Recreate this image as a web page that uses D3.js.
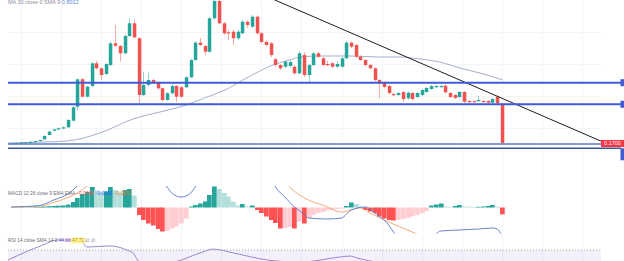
<!DOCTYPE html>
<html><head><meta charset="utf-8">
<script src="https://cdn.jsdelivr.net/npm/d3@7"></script>
<style>body{margin:0;background:#fff}svg{display:block}text{font-family:"Liberation Sans",Arial,sans-serif}</style>
</head><body><svg id="c" width="624" height="261"></svg>
<script>
// ---- data ----
const opens = [.165,.168,.170,.174,.177,.182,.190,.207,.250,.293,.307,.317,.327,.393,.533,.807,.633,.740,.967,.917,.860,.950,1.167,1.140,1.067,1.240,1.367,1.217,.650,.750,.800,.773,.717,.600,.667,.740,.727,.727,.827,1.000,1.173,1.140,1.083,1.417,1.590,1.367,1.277,1.283,1.217,1.267,1.383,1.333,1.433,1.267,1.180,1.167,1.007,.950,.933,.940,.933,.867,1.050,.850,.950,1.067,1.017,.960,.967,.933,.933,1.017,1.173,1.150,1.033,1.000,.950,.917,.800,.780,.740,.660,.650,.680,.617,.670,.630,.650,.680,.710,.730,.735,.743,.670,.650,.630,.680,.590,.588,.595,.590,.590,.573,.633,.560];
const highs = [.170,.172,.176,.179,.184,.192,.203,.250,.295,.315,.325,.335,.410,.540,.815,.820,.745,.980,.990,.925,.970,1.180,1.350,1.150,1.255,1.417,1.400,1.230,.883,.873,.815,.785,.725,.680,.755,.750,.740,.840,1.015,1.190,1.220,1.150,1.430,1.650,1.620,1.380,1.300,1.300,1.300,1.400,1.395,1.450,1.445,1.280,1.195,1.180,1.020,.960,.995,1.000,.945,1.085,1.080,.960,1.080,1.080,1.030,.990,.980,.990,1.030,1.190,1.185,1.160,1.045,1.010,.960,.925,.810,.790,.750,.670,.680,.690,.685,.680,.680,.710,.730,.750,.750,.750,.755,.680,.660,.690,.690,.600,.598,.640,.600,.600,.620,.645,.570];
const lows = [.163,.166,.168,.172,.175,.180,.188,.200,.245,.288,.300,.310,.320,.385,.500,.620,.625,.730,.905,.800,.850,.940,1.130,.983,1.055,1.230,1.215,.570,.640,.740,.760,.700,.585,.590,.655,.583,.620,.715,.815,.990,1.140,1.050,1.070,1.400,1.355,1.250,1.200,1.150,1.200,1.255,1.320,1.320,1.255,1.165,1.135,1.030,.935,.900,.920,.925,.850,.855,.830,.770,.940,1.020,.935,.940,.920,.925,.925,1.005,1.120,1.020,.990,.935,.905,.785,.620,.715,.655,.640,.640,.580,.605,.595,.620,.640,.670,.700,.720,.725,.665,.620,.610,.620,.570,.575,.578,.585,.578,.560,.565,.555,.160];
const closes = [.168,.170,.174,.177,.182,.190,.200,.240,.283,.307,.317,.327,.400,.527,.807,.633,.733,.967,.917,.850,.960,1.167,1.143,1.067,1.240,1.367,1.227,.650,.750,.800,.773,.717,.600,.667,.740,.633,.633,.827,1.000,1.173,1.150,1.083,1.417,1.590,1.367,1.267,1.267,1.217,1.283,1.383,1.350,1.433,1.267,1.180,1.150,1.050,.950,.917,.983,.980,.867,1.067,.850,.950,1.067,1.033,.950,.950,.933,.960,1.017,1.173,1.133,1.033,1.000,.950,.917,.800,.767,.730,.670,.650,.670,.610,.673,.610,.670,.700,.720,.740,.740,.740,.677,.630,.620,.680,.583,.585,.584,.600,.585,.573,.610,.567,.170];

// moving average on price (sparse points)
const smaIdx = [-0.7,6.7,11.8,18.8,25.8,31.5,35.7,41.5,45.3,49.1,52.7,55.4,59.0,61.2,65.4,71.8,78.1,82.4,86.6,90.8,95.1,99.3,104.2];
const smaVal = [.17,.18,.19,.27,.41,.48,.53,.63,.70,.80,.89,.95,1.00,1.03,1.04,1.04,1.03,1.03,1.01,.98,.92,.87,.80];

// horizontal levels and trend line
const levels = [0.773, 0.557, 0.160, 0.117];
const trendIdx = [50, 126];
const trendVal = [1.72, 0.168];

// MACD histogram
const hist = [.0001,.0001,.0002,.0002,.0003,.0005,.0007,.001,.0013,.0016,.0018,.002,.003,.0055,.0095,.0135,.0155,.0205,.017,.0155,.016,.0205,.0175,.015,.0175,.0185,.012,
-.0075,-.0125,-.016,-.018,-.0215,-.024,-.0235,-.021,-.019,-.016,-.011,
.001,.0025,.004,.006,.0125,.021,.0185,.0145,.011,.006,.002,.0035,.001,.002,
-.0025,-.0055,-.009,-.0125,-.0155,-.021,-.0205,-.0195,-.021,-.014,-.016,-.0105,-.0075,-.0055,-.0043,-.003,-.0025,-.0015,-.001,
.0015,.005,.0035,.001,
-.0025,-.004,-.0055,-.009,-.011,-.0125,-.013,-.0125,-.0115,-.0105,-.009,-.0075,-.0055,-.0035,
.002,.003,.004,.001,.0008,.0015,.0025,.001,.0008,.0006,.0007,.001,.0015,.0025,.001,-.0068];
const macdIdx = [0,3,6,9,12,14,16,20,25,27,30,33,34,36,38,39,41,44,48,52,55,56,58,60,62,63,67,70,72,75,77,80,81,83,86,90,91,95,99,102,103,104];
const macdVal = [.0005,.001,.002,.0075,.0135,.0215,.030,.045,.060,.055,.035,.0205,.0145,.0105,.0145,.0205,.032,.050,.052,.045,.030,.0205,.0105,.0005,-.0065,-.0105,-.0115,-.0105,-.0025,.0005,-.0055,-.0175,-.0245,-.0325,-.035,-.0265,-.0235,-.0225,-.0215,-.0205,-.0215,-.0285];
const sigIdx = [0,6,9,12,15,17,20,26,30,36,42,48,52,56,59,63,66,70,72,74,76,80,84,86,88,95,104];
const sigVal = [.0003,.0012,.005,.010,.0175,.025,.035,.048,.050,.045,.038,.044,.046,.038,.0205,.0075,.0025,-.0045,-.0025,-.0005,-.0055,-.0145,-.0225,-.0265,-.030,-.033,-.032];

// RSI (sparse points)
const rsiIdx = [-0.7,6.7,9.7,14.6,16.0,20.9,24.5,25.8,27.3,33.7,40.0,42.8,47.1,54.3,61.2,69.7,71.8,73.3,78.1,86.6,103.6];
const rsiVal = [48.6,80.7,91.4,91.4,76.4,78.6,70,63.6,44,44,63.6,72,63.6,48.6,44,55,57,52.9,44,42,44];

// vertical / horizontal grid positions
const vGrid = [2,10.5,19,27.5,36,44.5,53,61.5,70,78.5,87,95.5,104,112.5,121];
const hGrid = [0.32,0.64,0.96,1.28];

// ---- drawing ----
const svg = d3.select("#c");
const x = d3.scaleLinear().domain([-0.7,125]).range([8,601]);
const y = d3.scaleLinear().domain([0,1.6]).range([160,0]);
const yM = d3.scaleLinear().domain([-0.0265,0.0245]).range([234,183]);
const yR = d3.scaleLinear().domain([30,70]).range([268.7,250]);
const UP="#26a69a", DN="#ef5350";

const defs = svg.append("defs");
function clip(id,x0,y0,w,h){defs.append("clipPath").attr("id",id).append("rect").attr("x",x0).attr("y",y0).attr("width",w).attr("height",h);}
clip("cm",8,0,593,157); clip("cd",8,186,593,47.5); clip("cr",8,236,593,25);

// grid
const g0 = svg.append("g");
g0.selectAll("line.v").data(vGrid).join("line").attr("x1",d=>Math.round(x(d))+0.5).attr("x2",d=>Math.round(x(d))+0.5)
  .attr("y1",0).attr("y2",261).attr("stroke","#f3f5fa").attr("stroke-width",1);
g0.selectAll("line.h").data(hGrid).join("line").attr("x1",8).attr("x2",601).attr("y1",d=>Math.round(y(d))+0.5).attr("y2",d=>Math.round(y(d))+0.5)
  .attr("stroke","#f3f5fa");

// main pane
const gm = svg.append("g").attr("clip-path","url(#cm)");
const idx = d3.range(closes.length);
const line = d3.line().curve(d3.curveMonotoneX);
gm.append("path").attr("d",line(smaIdx.map((d,i)=>[x(d),y(smaVal[i])]))).attr("fill","none").attr("stroke","#9aa6c4").attr("stroke-width",0.9);
gm.selectAll("line.w").data(idx).join("line")
  .attr("x1",i=>Math.round(x(i))+0.5).attr("x2",i=>Math.round(x(i))+0.5)
  .attr("y1",i=>y(highs[i])).attr("y2",i=>y(lows[i]))
  .attr("stroke",i=>closes[i]>=opens[i]?UP:DN).attr("stroke-width",1).attr("opacity",0.5);
gm.selectAll("rect.b").data(idx).join("rect")
  .attr("x",i=>Math.round(x(i))-1.2).attr("width",3.5)
  .attr("y",i=>y(Math.max(opens[i],closes[i])))
  .attr("height",i=>Math.max(1.2,Math.abs(y(opens[i])-y(closes[i]))))
  .attr("fill",i=>closes[i]>=opens[i]?UP:DN);
gm.append("line").attr("x1",x(trendIdx[0])).attr("y1",y(trendVal[0])).attr("x2",x(trendIdx[1])).attr("y2",y(trendVal[1]))
  .attr("stroke","#1e1e1e").attr("stroke-width",1);

// horizontal levels
const lvStyle = [["#3f5bd6",2],["#3f5bd6",2],["#5b7bc4",1.4],["#3d5890",1.4]];
svg.selectAll("line.lv").data(levels).join("line").attr("x1",8).attr("x2",621)
  .attr("y1",d=>y(d)).attr("y2",d=>y(d))
  .attr("stroke",(d,i)=>lvStyle[i][0]).attr("stroke-width",(d,i)=>lvStyle[i][1]);
svg.selectAll("rect.lv").data(levels.slice(0,2)).join("rect").attr("x",620.5).attr("width",4)
  .attr("y",d=>y(d)-3.5).attr("height",7).attr("fill","#3f5bd6");
svg.append("rect").attr("x",620.5).attr("y",y(levels[3])).attr("width",4).attr("height",12).attr("fill","#3f5bd6");
// last price label
const last = closes[closes.length-1];
svg.append("rect").attr("x",601).attr("y",y(last)-3).attr("width",23).attr("height",7).attr("fill","#f23645");
svg.append("text").attr("x",612.5).attr("y",y(last)+2.2).attr("text-anchor","middle").attr("font-size",5.5).attr("fill","#fff").text(d3.format(".4f")(last));

// top legend
const tl = svg.append("text").attr("x",8).attr("y",3.5).attr("font-size",5.5).attr("fill","#8a8e99");
tl.append("tspan").text("MA 30 close 0 SMA 9 ");
tl.append("tspan").attr("fill","#5b83d6").text("0.8012");

// MACD pane
const gd = svg.append("g").attr("clip-path","url(#cd)");
gd.selectAll("rect").data(idx).join("rect")
  .attr("x",i=>Math.round(x(i))-2).attr("width",4.7)
  .attr("y",i=>Math.min(yM(0),yM(hist[i]))).attr("height",i=>Math.abs(yM(hist[i])-yM(0)))
  .attr("fill",i=>{const h=hist[i],p=i?hist[i-1]:0; return h>=0?(h>=p?"#26a69a":"#b2dfdb"):(h<p?"#ff5252":"#ffcdd2");});
gd.append("path").attr("d",line(sigIdx.map((d,i)=>[x(d),yM(sigVal[i])]))).attr("fill","none").attr("stroke","#f5a36a").attr("stroke-width",0.9);
gd.append("path").attr("d",line(macdIdx.map((d,i)=>[x(d),yM(macdVal[i])]))).attr("fill","none").attr("stroke","#5477c8").attr("stroke-width",0.9);
const ml = svg.append("text").attr("x",8).attr("y",195).attr("font-size",4.8).attr("fill","#6a6d78");
ml.append("tspan").text("MACD 12 26 close 9 EMA EMA ");
ml.append("tspan").attr("fill","#ef5350").text(" −0.0068 ");
ml.append("tspan").attr("fill","#2962ff").text(" −0.0285 ");
ml.append("tspan").attr("fill","#ff6d00").text(" −0.0217");

// RSI pane
const gr = svg.append("g").attr("clip-path","url(#cr)");
gr.append("rect").attr("x",8).attr("width",593).attr("y",yR(70)).attr("height",yR(30)-yR(70)).attr("fill","#7e57c2").attr("opacity",0.09);
gr.selectAll("line").data([70,30]).join("line").attr("x1",8).attr("x2",601).attr("y1",d=>yR(d)).attr("y2",d=>yR(d))
  .attr("stroke","#9598a1").attr("stroke-dasharray","1,2").attr("stroke-width",0.8);
gr.append("path").attr("d",line(rsiIdx.map((d,i)=>[x(d),yR(rsiVal[i])]))).attr("fill","none").attr("stroke","#8e79c9").attr("stroke-width",0.9);
const hl = svg.append("rect").attr("y",237.5).attr("height",6).attr("fill","#fff59d");
const rl = svg.append("text").attr("x",8).attr("y",242).attr("font-size",4.8).attr("fill","#6a6d78");
rl.append("tspan").text("RSI 14 close SMA 14 2  ");
rl.append("tspan").attr("fill","#7e57c2").text("44.10  ");
const yv = rl.append("tspan").attr("fill","#b08d00").text("47.71");
rl.append("tspan").text("  ∅ ∅");
const bb = yv.node().getBBox();
hl.attr("x",bb.x-1).attr("width",bb.width+2);
</script></body></html>
